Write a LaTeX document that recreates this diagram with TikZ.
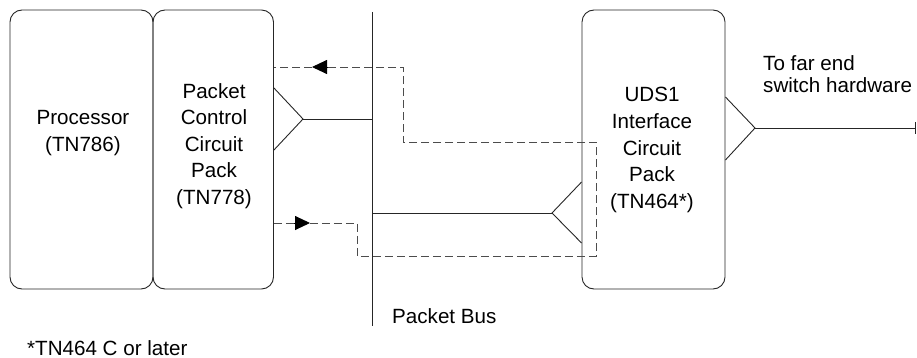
\documentclass[tikz,border=0pt]{standalone}
\usepackage{fontspec}
\setmainfont{Liberation Sans}
\usetikzlibrary{calc, arrows.meta}

\tikzset{
  card/.style={draw=black!85, line width=0.9pt, rounded corners=12pt,
    inner sep=0pt, minimum height=279pt},
  txt/.style={inner sep=0pt, align=center, font=\fontsize{20.6}{26.6}\selectfont},
  wire/.style={draw=black!85, line width=0.9pt},
  loopline/.style={draw=black!70, line width=0.9pt, dash pattern=on 8pt off 4pt},
  flow/.style={draw=black, line width=0.9pt, -{Triangle[length=15pt, width=14pt]}}
}

\begin{document}
\begin{tikzpicture}[x=1pt, y=-1pt]

    \useasboundingbox (0,0) rectangle (917,358);

            % Circuit packs
            \node[card, minimum width=143pt] (proc) at (81.5,149.5) {};
            \node[card, minimum width=120.5pt] (pccp) at (213.25,149.5) {};
            \node[card, minimum width=143pt] (uds) at (653.5,149.5) {};

            % Pack names
            \node[txt] (proctxt) at (83,133) {Processor\\(TN786)};
            \node[txt] (pccptxt) at (214,146) {Packet\\Control\\Circuit\\Pack\\(TN778)};
            \node[txt] (udstxt) at (652,150) {UDS1\\Interface\\Circuit\\Pack\\(TN464*)};

            % Packet bus
            \coordinate (bustop) at (372,12);
            \coordinate (busbot) at (372,326);
            \draw[wire] (bustop) -- (busbot);
            \node[txt, anchor=base west] (buslbl) at (392,323) {Packet Bus};

            % Tap of the packet control pack
            \coordinate (pccpY) at (303,119);
            \draw[wire] (pccp.east |- 0,88) -- (pccpY) -- (pccp.east |- 0,150);
            \draw[wire] (pccpY) -- (pccpY -| bustop);

            % Tap of the UDS1 pack on the bus
            \coordinate (udsY) at (552,213);
            \draw[wire] (uds.west |- 0,182) -- (udsY) -- (uds.west |- 0,243);
            \draw[wire] (udsY) -- (udsY -| bustop);

            % Line to the far end
            \coordinate (farY) at (755,128);
            \coordinate (farend) at (915,128);
            \draw[wire] (uds.east |- 0,97) -- (farY) -- (uds.east |- 0,160);
            \draw[wire] (farY) -- (farend);
            \draw[wire] ($(farend)+(0,-6)$) -- ($(farend)+(0,6)$);
            \node[txt, align=left, anchor=base west,
              font=\fontsize{20.6}{22.5}\selectfont] (farlbl) at (763,93)
              {To far end\\switch hardware};

            % Dashed packet loop
            \draw[loopline] (pccp.east |- 0,223) -- (357,223) -- (357,256)
              -- (596,256) -- (596,142) -- (403,142) -- (403,67)
              -- (pccp.east |- 0,67);
            \path[flow] (294,223) -- (310,223);
            \path[flow] (328,67) -- (312,67);

            % Footnote
            \node[txt, anchor=base west] (note) at (27,355) {*TN464 C or later};
        \end{tikzpicture}
\end{document}
